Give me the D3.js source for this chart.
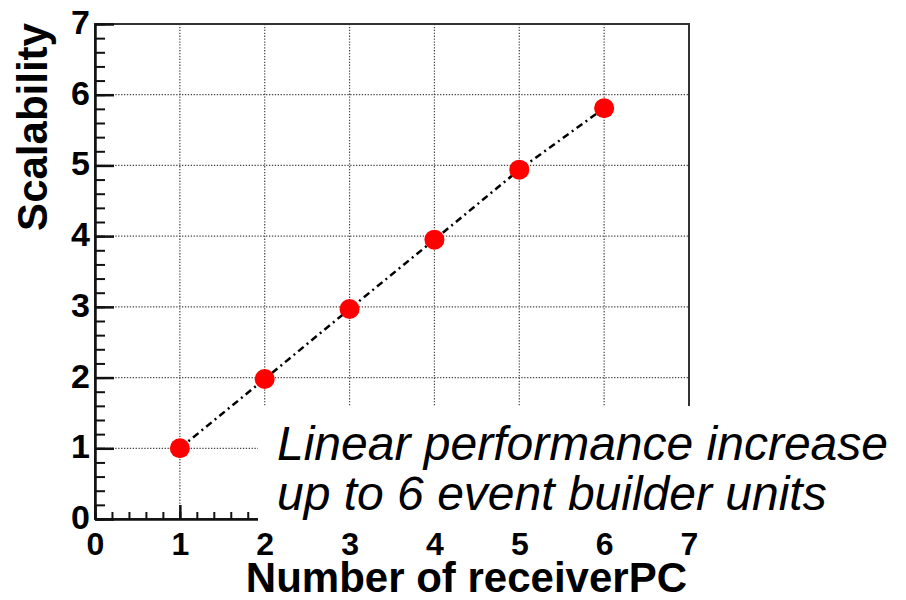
<!DOCTYPE html>
<html>
<head>
<meta charset="utf-8">
<script src="https://cdn.jsdelivr.net/npm/d3@7.9.0/dist/d3.min.js"></script>
<style>
  body { margin: 0; background: #fff; }
  svg { display: block; }
</style>
</head>
<body>
<svg id="chart" width="906" height="600"></svg>
<script>
// Data
const receiverPCs = [1, 2, 3, 4, 5, 6];
const scalability = [1.0, 1.98, 2.97, 3.95, 4.94, 5.81];
const xTicks = [0, 1, 2, 3, 4, 5, 6, 7];
const yTicks = [0, 1, 2, 3, 4, 5, 6, 7];
const annotationLines = ['Linear performance increase', 'up to 6 event builder units'];

const svg = d3.select('#chart');
const font = '"Liberation Sans", Arial, Helvetica, sans-serif';

// Plot frame in pixels
const frameLeft = 95, frameRight = 689, frameTop = 24, frameBottom = 519;

const x = d3.scaleLinear().domain([0, 7]).range([frameLeft, frameRight]);
const y = d3.scaleLinear().domain([0, 7]).range([frameBottom, frameTop]);

// Dotted grid at the major ticks
const grid = svg.append('g')
    .attr('stroke', '#444')
    .attr('stroke-width', 1.2)
    .attr('stroke-dasharray', '1.3,1.6');
grid.selectAll('line.gx')
    .data(xTicks.slice(1, -1))
    .join('line')
    .attr('x1', d => x(d)).attr('x2', d => x(d))
    .attr('y1', frameTop).attr('y2', frameBottom);
grid.selectAll('line.gy')
    .data(yTicks.slice(1, -1))
    .join('line')
    .attr('x1', frameLeft).attr('x2', frameRight)
    .attr('y1', d => y(d)).attr('y2', d => y(d));

// Frame
svg.append('rect')
    .attr('x', frameLeft).attr('y', frameTop)
    .attr('width', frameRight - frameLeft).attr('height', frameBottom - frameTop)
    .attr('fill', 'none')
    .attr('stroke', '#333')
    .attr('stroke-width', 2);

// Minor ticks (0.2 steps), pointing inward
const minor = d3.range(0, 7.001, 0.2);
svg.append('g')
    .attr('transform', `translate(0,${frameBottom})`)
    .call(d3.axisBottom(x).tickValues(minor).tickFormat('').tickSize(-7).tickSizeOuter(0))
    .call(g => g.select('.domain').remove())
    .selectAll('line').attr('stroke', '#111').attr('stroke-width', 2);
svg.append('g')
    .attr('transform', `translate(${frameLeft},0)`)
    .call(d3.axisLeft(y).tickValues(minor).tickFormat('').tickSize(-10).tickSizeOuter(0))
    .call(g => g.select('.domain').remove())
    .selectAll('line').attr('stroke', '#111').attr('stroke-width', 2);

// Major ticks with labels
const xAxis = svg.append('g')
    .attr('transform', `translate(0,${frameBottom})`)
    .call(d3.axisBottom(x).tickValues(xTicks).tickFormat(d3.format('d')).tickSize(-14).tickSizeOuter(0).tickPadding(13));
const yAxis = svg.append('g')
    .attr('transform', `translate(${frameLeft},0)`)
    .call(d3.axisLeft(y).tickValues(yTicks).tickFormat(d3.format('d')).tickSize(-19).tickSizeOuter(0).tickPadding(5));

[xAxis, yAxis].forEach(g => {
    g.select('.domain').attr('stroke', '#111').attr('stroke-width', 2.5);
    g.selectAll('.tick line').attr('stroke', '#111').attr('stroke-width', 2.5);
    g.selectAll('.tick text')
        .attr('fill', '#000')
        .attr('font-family', font)
        .attr('font-weight', 'bold');
});
xAxis.selectAll('.tick text').attr('font-size', 32);
yAxis.selectAll('.tick text').attr('font-size', 34).attr('dy', '0.28em');

// Dash-dot connecting line
const line = d3.line()
    .x((d, i) => x(receiverPCs[i]))
    .y(d => y(d));
svg.append('path')
    .datum(scalability)
    .attr('d', line)
    .attr('fill', 'none')
    .attr('stroke', '#000')
    .attr('stroke-width', 2.5)
    .attr('stroke-dasharray', '7,4,2,4');

// Red markers
svg.selectAll('circle.pt')
    .data(scalability)
    .join('circle')
    .attr('class', 'pt')
    .attr('cx', (d, i) => x(receiverPCs[i]))
    .attr('cy', d => y(d))
    .attr('r', 10)
    .attr('fill', '#ff0000');

// Axis titles
svg.append('text')
    .attr('x', 687).attr('y', 592)
    .attr('text-anchor', 'end')
    .attr('font-family', font)
    .attr('font-weight', 'bold')
    .attr('font-size', 42)
    .text('Number of receiverPC');
svg.append('text')
    .attr('transform', 'translate(47,127) rotate(-90)')
    .attr('text-anchor', 'middle')
    .attr('font-family', font)
    .attr('font-weight', 'bold')
    .attr('font-size', 42)
    .text('Scalability');

// Annotation box covering the lower right of the plot
svg.append('rect')
    .attr('x', 258).attr('y', 406)
    .attr('width', 906 - 258).attr('height', 126)
    .attr('fill', '#fff');
svg.append('text')
    .attr('font-family', font)
    .attr('font-style', 'italic')
    .attr('font-size', 48)
    .attr('fill', '#000')
    .selectAll('tspan')
    .data(annotationLines)
    .join('tspan')
    .attr('x', 277)
    .attr('y', (d, i) => 460 + i * 50)
    .text(d => d);
</script>
</body>
</html>
